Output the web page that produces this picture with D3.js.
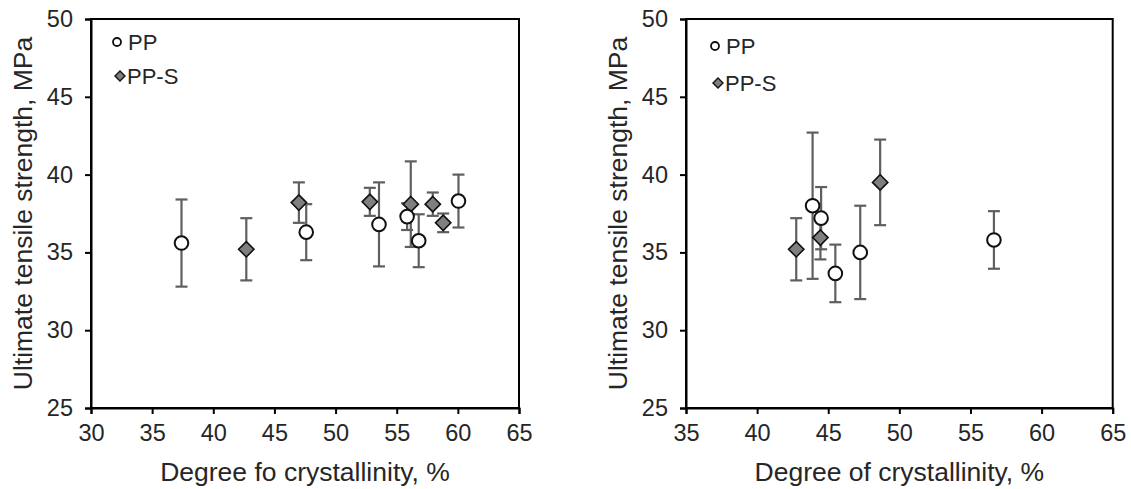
<!DOCTYPE html>
<html lang="en">
<head>
<meta charset="utf-8">
<title>Tensile strength vs crystallinity</title>
<script src="https://cdnjs.cloudflare.com/ajax/libs/d3/7.8.5/d3.min.js"></script>
<style>
  body { margin: 0; background: #fff; }
  text { font-family: "Liberation Sans", Arial, sans-serif; fill: #262626; }
</style>
</head>
<body>
<script>
// left panel: Degree fo crystallinity
const leftPPx = [37.4, 47.6, 53.55, 55.85, 56.8, 60.05];
const leftPPy = [35.6, 36.3, 36.8, 37.3, 35.75, 38.3];
const leftPPerr = [2.8, 1.8, 2.7, 0.86, 1.7, 1.7];
const leftPPSx = [42.7, 47.0, 52.8, 56.15, 57.95, 58.8];
const leftPPSy = [35.2, 38.2, 38.25, 38.1, 38.1, 36.9];
const leftPPSerr = [2.0, 1.3, 0.9, 2.75, 0.75, 0.6];

// right panel: Degree of crystallinity
const rightPPx = [43.9, 44.5, 45.5, 47.25, 56.65];
const rightPPy = [38.0, 37.2, 33.65, 35.0, 35.8];
const rightPPerr = [4.7, 2.0, 1.85, 3.0, 1.85];
const rightPPSx = [42.75, 44.45, 48.65];
const rightPPSy = [35.2, 35.95, 39.5];
const rightPPSerr = [2.0, 1.4, 2.75];

const leftXTicks = [30, 35, 40, 45, 50, 55, 60, 65];
const rightXTicks = [35, 40, 45, 50, 55, 60, 65];
const yTicks = [25, 30, 35, 40, 45, 50];
const seriesNames = ["PP", "PP-S"];

const W = 1131, H = 489;
const svg = d3.select("body").append("svg")
  .attr("width", W).attr("height", H);

function panel(opt) {
  const x = d3.scaleLinear().domain(opt.xDomain).range([opt.left, opt.right]);
  const y = d3.scaleLinear().domain([25, 50]).range([408, 19]);
  const g = svg.append("g");

  // box
  g.append("rect")
    .attr("x", opt.left).attr("y", 19)
    .attr("width", opt.right - opt.left).attr("height", 408 - 19)
    .attr("fill", "none").attr("stroke", "#000").attr("stroke-width", 2);

  const xAxis = g.append("g").attr("transform", "translate(0,408)")
    .call(d3.axisBottom(x).tickValues(opt.xTicks).tickSize(6).tickPadding(10));
  const yAxis = g.append("g").attr("transform", "translate(" + opt.left + ",0)")
    .call(d3.axisLeft(y).tickValues(yTicks).tickSize(6).tickPadding(12));
  [xAxis, yAxis].forEach(a => {
    a.select(".domain").attr("stroke", "#000").attr("stroke-width", 2);
    a.selectAll(".tick line").attr("stroke", "#000").attr("stroke-width", 2);
    a.selectAll(".tick text").attr("font-size", 23.5)
      .attr("font-family", "Liberation Sans, Arial, sans-serif").attr("fill", "#262626");
  });

  // axis titles
  g.append("text")
    .attr("x", (opt.left + opt.right) / 2).attr("y", 481)
    .attr("text-anchor", "middle").attr("font-size", 26.5)
    .text(opt.xTitle);
  g.append("text")
    .attr("transform", "translate(" + (opt.left - 59) + "," + ((19 + 408) / 2) + ") rotate(-90)")
    .attr("text-anchor", "middle").attr("font-size", 26.5)
    .text("Ultimate tensile strength, MPa");

  const pp = opt.ppX.map((v, i) => ({ x: v, y: opt.ppY[i], e: opt.ppE[i] }));
  const pps = opt.ppsX.map((v, i) => ({ x: v, y: opt.ppsY[i], e: opt.ppsE[i] }));
  const all = pps.concat(pp);

  // error bars
  const eb = g.append("g").attr("stroke", "#5f5f5f").attr("stroke-width", 2.2);
  eb.selectAll(".v").data(all).enter().append("line")
    .attr("x1", d => x(d.x)).attr("x2", d => x(d.x))
    .attr("y1", d => y(d.y + d.e)).attr("y2", d => y(d.y - d.e));
  eb.selectAll(".t").data(all).enter().append("line")
    .attr("x1", d => x(d.x) - 6).attr("x2", d => x(d.x) + 6)
    .attr("y1", d => y(d.y + d.e)).attr("y2", d => y(d.y + d.e));
  eb.selectAll(".b").data(all).enter().append("line")
    .attr("x1", d => x(d.x) - 6).attr("x2", d => x(d.x) + 6)
    .attr("y1", d => y(d.y - d.e)).attr("y2", d => y(d.y - d.e));

  // markers
  g.selectAll(".dia").data(pps).enter().append("path")
    .attr("d", d3.symbol(d3.symbolDiamond2, 150))
    .attr("transform", d => "translate(" + x(d.x) + "," + y(d.y) + ")")
    .attr("fill", "#7f7f7f").attr("stroke", "#111").attr("stroke-width", 1.6);
  g.selectAll(".circ").data(pp).enter().append("circle")
    .attr("cx", d => x(d.x)).attr("cy", d => y(d.y)).attr("r", 6.8)
    .attr("fill", "#fff").attr("stroke", "#111").attr("stroke-width", 2);

  // legend
  const lg = g.append("g");
  lg.append("circle").attr("cx", opt.leg[0]).attr("cy", opt.leg[1]).attr("r", 4)
    .attr("fill", "#fff").attr("stroke", "#111").attr("stroke-width", 1.8);
  lg.append("text").attr("x", opt.leg[0] + 11).attr("y", opt.leg[1] + 8)
    .attr("font-size", 22).text(seriesNames[0]);
  lg.append("path").attr("d", d3.symbol(d3.symbolDiamond2, 64))
    .attr("transform", "translate(" + (opt.leg[0] + 3) + "," + (opt.leg[1] + opt.leg[2]) + ")")
    .attr("fill", "#7f7f7f").attr("stroke", "#111").attr("stroke-width", 1.4);
  lg.append("text").attr("x", opt.leg[0] + 10).attr("y", opt.leg[1] + opt.leg[2] + 8)
    .attr("font-size", 22).text(seriesNames[1]);
}

panel({
  left: 91, right: 519, xDomain: [30, 65], xTicks: leftXTicks,
  xTitle: "Degree fo crystallinity, %",
  ppX: leftPPx, ppY: leftPPy, ppE: leftPPerr,
  ppsX: leftPPSx, ppsY: leftPPSy, ppsE: leftPPSerr,
  leg: [117, 42, 34]
});
panel({
  left: 686, right: 1112.7, xDomain: [35, 65], xTicks: rightXTicks,
  xTitle: "Degree of crystallinity, %",
  ppX: rightPPx, ppY: rightPPy, ppE: rightPPerr,
  ppsX: rightPPSx, ppsY: rightPPSy, ppsE: rightPPSerr,
  leg: [715, 46, 37]
});
</script>
</body>
</html>
